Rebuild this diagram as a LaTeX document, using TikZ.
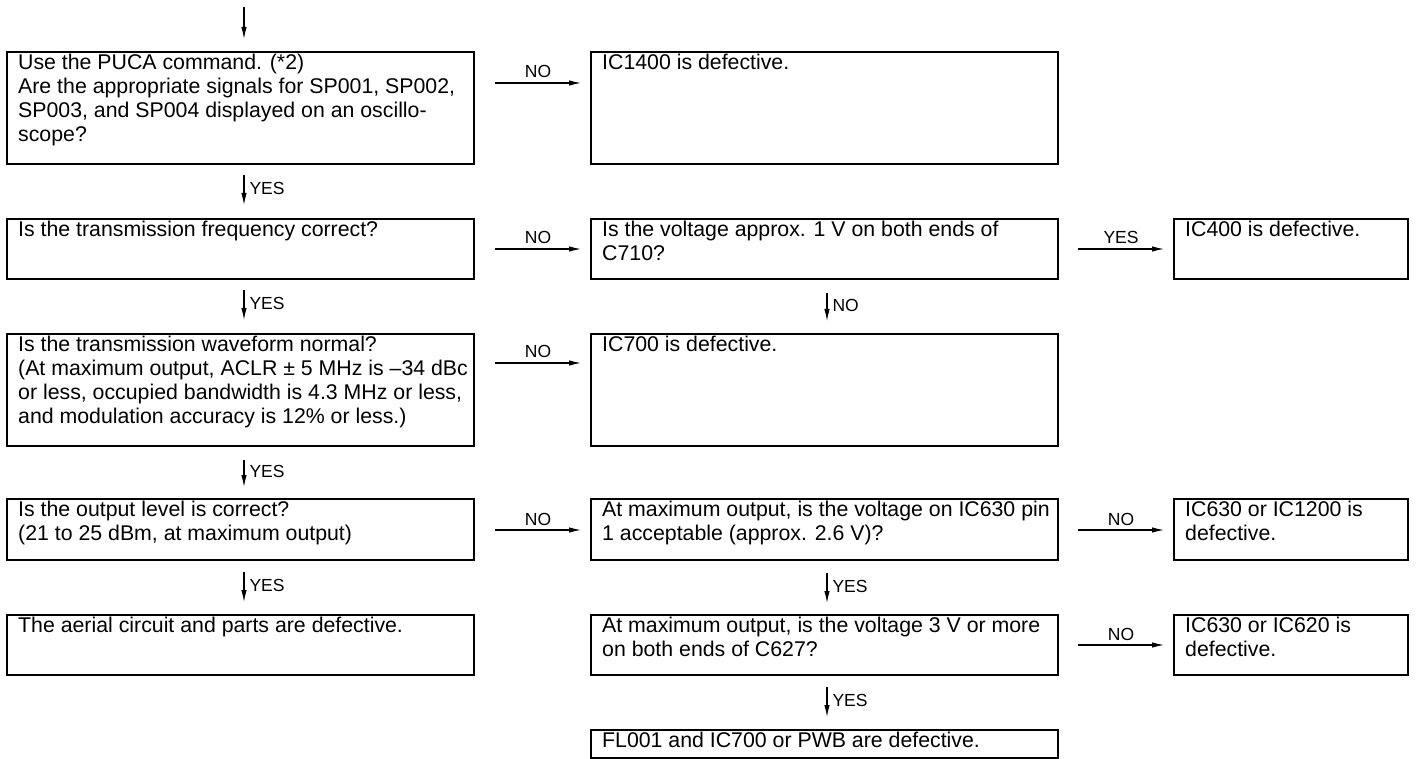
\documentclass[tikz,border=0pt]{standalone}
\usepackage{fontspec}
\setmainfont{Liberation Sans}
\usetikzlibrary{arrows.meta}
\tikzset{
  box/.style={draw, line width=1.8pt, anchor=north west, inner sep=0pt, outer sep=0pt},
  txt/.style={anchor=north west, inner sep=0pt, align=left, font=\fontsize{21.3}{24}\selectfont},
  lbl/.style={inner sep=0pt, font=\fontsize{17.5}{20}\selectfont},
  arr/.style={line width=1.1pt, -{Latex[length=12pt,width=5.5pt]}},
  ylbl/.style={lbl, anchor=west, xshift=5pt, yshift=2pt},
  hlbl/.style={lbl, anchor=base, yshift=5pt},
}
\newcommand{\flowbox}[6]{%
  \node[box, minimum width=#4pt, minimum height=#5pt] (#1) at (#2,#3) {};
  \node[txt] (#1t) at ([xshift=11pt,yshift=-1pt]#1.north west) {\rule{0pt}{16pt}#6};
}
\begin{document}
\begin{tikzpicture}[x=1pt,y=-1pt]
\useasboundingbox (0,0) rectangle (1417,759);
% boxes
\flowbox{A}{7}{52}{467}{112}{Use the PUCA command. (*2)\\Are the appropriate signals for SP001, SP002,\\SP003, and SP004 displayed on an oscillo-\\scope?}
\flowbox{B}{591}{52}{467}{112}{IC1400 is defective.}
\flowbox{C}{7}{219}{467}{60}{Is the transmission frequency correct?}
\flowbox{D}{591}{219}{467}{60}{Is the voltage approx. 1 V on both ends of\\C710?}
\flowbox{E}{1174}{219}{234}{60}{IC400 is defective.}
\flowbox{F}{7}{334}{467}{112}{Is the transmission waveform normal?\\(At maximum output, ACLR ± 5 MHz is –34 dBc\\or less, occupied bandwidth is 4.3 MHz or less,\\and modulation accuracy is 12\% or less.)}
\flowbox{G}{591}{334}{467}{112}{IC700 is defective.}
\flowbox{H}{7}{499}{467}{61}{Is the output level is correct?\\(21 to 25 dBm, at maximum output)}
\flowbox{I}{591}{499}{467}{61}{At maximum output, is the voltage on IC630 pin\\1 acceptable (approx. 2.6 V)?}
\flowbox{J}{1174}{499}{234}{61}{IC630 or IC1200 is\\defective.}
\flowbox{K}{7}{615}{467}{60}{The aerial circuit and parts are defective.}
\flowbox{L}{591}{615}{467}{60}{At maximum output, is the voltage 3 V or more\\on both ends of C627?}
\flowbox{M}{1174}{615}{234}{60}{IC630 or IC620 is\\defective.}
\flowbox{N}{591}{730}{467}{28}{FL001 and IC700 or PWB are defective.}
% incoming arrow
\coordinate (start) at (244,7);
\draw[arr] (start) -- ([xshift=3.5pt,yshift=13pt]A.north);
% left column
\draw[arr] ([xshift=3.5pt,yshift=-11pt]A.south) -- node[ylbl]{YES} ([xshift=3.5pt,yshift=14pt]C.north);
\draw[arr] ([xshift=3.5pt,yshift=-11pt]C.south) -- node[ylbl]{YES} ([xshift=3.5pt,yshift=14pt]F.north);
\draw[arr] ([xshift=3.5pt,yshift=-14pt]F.south) -- node[ylbl]{YES} ([xshift=3.5pt,yshift=12pt]H.north);
\draw[arr] ([xshift=3.5pt,yshift=-12pt]H.south) -- node[ylbl]{YES} ([xshift=3.5pt,yshift=13pt]K.north);
% middle column
\draw[arr] ([xshift=2.5pt,yshift=-14pt]D.south) -- node[ylbl]{NO} ([xshift=2.5pt,yshift=13pt]G.north);
\draw[arr] ([xshift=2.5pt,yshift=-13pt]I.south) -- node[ylbl]{YES} ([xshift=2.5pt,yshift=12pt]L.north);
\draw[arr] ([xshift=2.5pt,yshift=-12pt]L.south) -- node[ylbl]{YES} ([xshift=2.5pt,yshift=13pt]N.north);
% horizontal arrows
\draw[arr] ([xshift=21pt,yshift=-31pt]A.north east) -- node[hlbl]{NO} ([xshift=-10pt,yshift=-31pt]B.north west);
\draw[arr] ([xshift=21pt,yshift=-30pt]C.north east) -- node[hlbl]{NO} ([xshift=-10pt,yshift=-30pt]D.north west);
\draw[arr] ([xshift=20pt,yshift=-30pt]D.north east) -- node[hlbl]{YES} ([xshift=-10pt,yshift=-30pt]E.north west);
\draw[arr] ([xshift=21pt,yshift=-29pt]F.north east) -- node[hlbl]{NO} ([xshift=-10pt,yshift=-29pt]G.north west);
\draw[arr] ([xshift=21pt,yshift=-31pt]H.north east) -- node[hlbl]{NO} ([xshift=-10pt,yshift=-31pt]I.north west);
\draw[arr] ([xshift=20pt,yshift=-31pt]I.north east) -- node[hlbl]{NO} ([xshift=-10pt,yshift=-31pt]J.north west);
\draw[arr] ([xshift=20pt,yshift=-30pt]L.north east) -- node[hlbl]{NO} ([xshift=-10pt,yshift=-30pt]M.north west);
\end{tikzpicture}
\end{document}
